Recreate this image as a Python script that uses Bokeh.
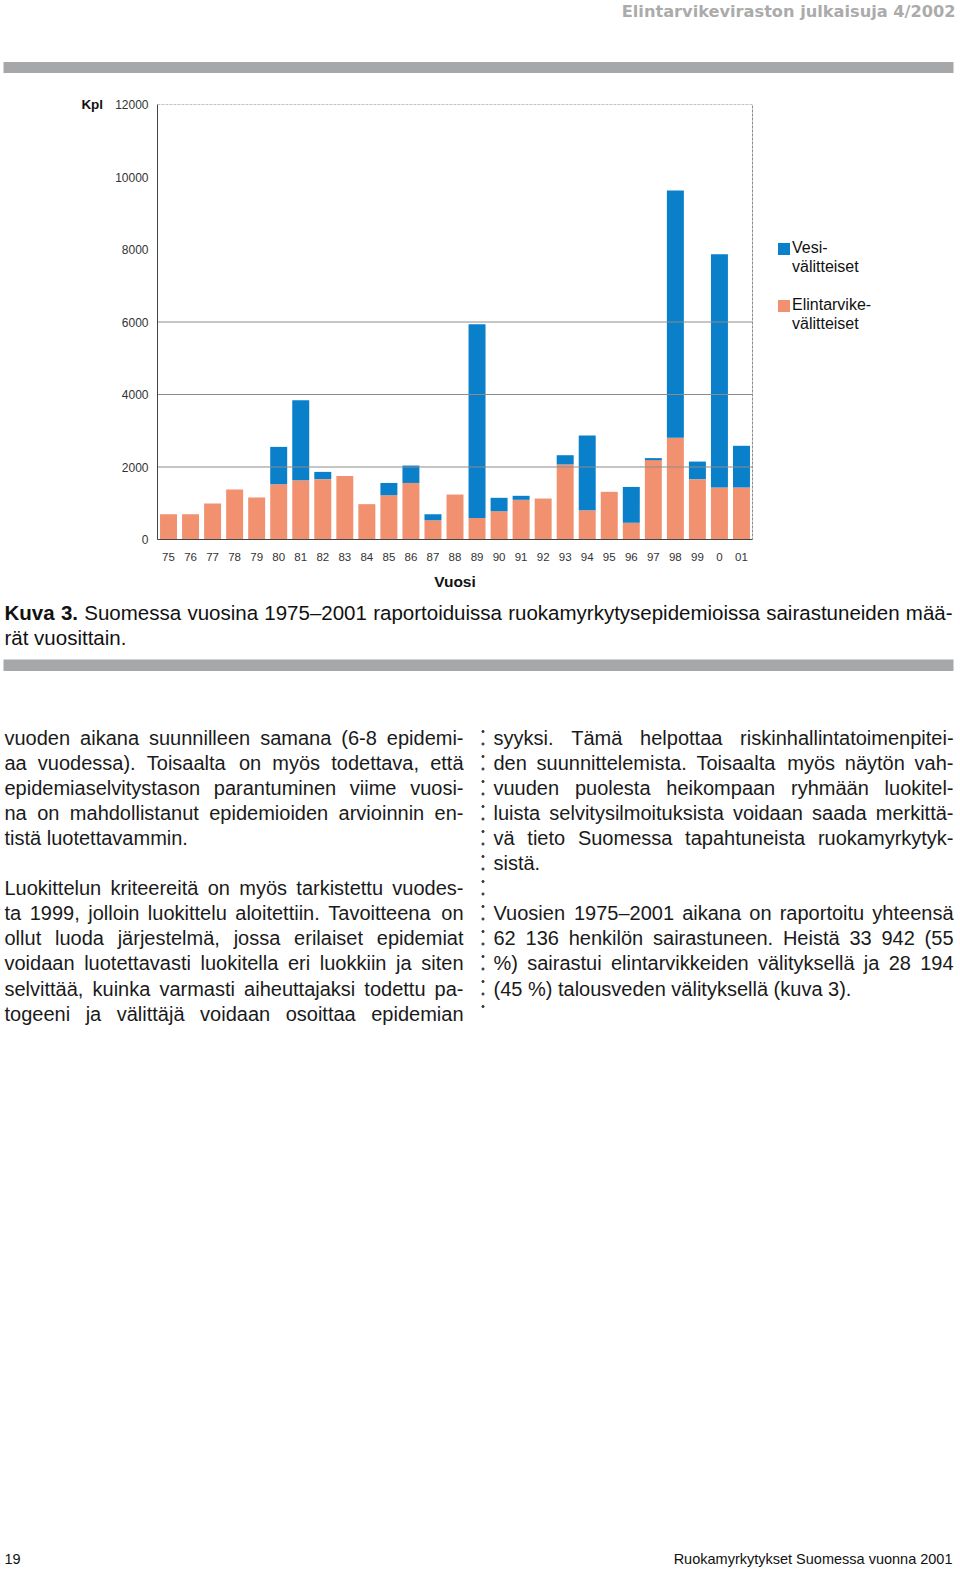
from bokeh.plotting import figure
from bokeh.models import (Range1d, FixedTicker, Legend, LegendItem, ColumnDataSource, LinearAxis)
from bokeh.layouts import column, row
from bokeh.core.properties import value
from bokeh.embed import file_html
from bokeh.resources import INLINE

# ---------------- chart data ----------------
years = ["75", "76", "77", "78", "79", "80", "81", "82", "83", "84", "85", "86", "87", "88",
         "89", "90", "91", "92", "93", "94", "95", "96", "97", "98", "99", "0", "01"]
food = [700, 700, 990, 1380, 1160, 1525, 1635, 1665, 1755, 975, 1220, 1560, 530, 1240,
        590, 780, 1095, 1130, 2070, 810, 1315, 460, 2190, 2805, 1665, 1435, 1435]
water = [0, 0, 0, 0, 0, 1030, 2205, 200, 0, 0, 340, 480, 170, 0,
         5350, 370, 110, 0, 255, 2060, 0, 990, 55, 6825, 485, 6435, 1150]
y_ticks = [0, 2000, 4000, 6000, 8000, 10000, 12000]
grid_ticks = [2000, 4000, 6000]
legend_lines = [["Vesi-", "välitteiset"], ["Elintarvike-", "välitteiset"]]
x_title = "Vuosi"
y_title = "Kpl"

BLUE = "#0a7fca"
ORANGE = "#f2916f"
GRAY_BAR = "#a6a7a9"

# ---------------- page text ----------------
header = "Elintarvikeviraston julkaisuja 4/2002"
caption_bold = ["Kuva", "3."]
caption_l1 = "Suomessa vuosina 1975–2001 raportoiduissa ruokamyrkytysepidemioissa sairastuneiden mää-"
caption_l2 = "rät vuosittain."
left_col = [
    (0, "vuoden aikana suunnilleen samana (6-8 epidemi-", True),
    (1, "aa vuodessa). Toisaalta on myös todettava, että", True),
    (2, "epidemiaselvitystason parantuminen viime vuosi-", True),
    (3, "na on mahdollistanut epidemioiden arvioinnin en-", True),
    (4, "tistä luotettavammin.", False),
    (6, "Luokittelun kriteereitä on myös tarkistettu vuodes-", True),
    (7, "ta 1999, jolloin luokittelu aloitettiin. Tavoitteena on", True),
    (8, "ollut luoda järjestelmä, jossa erilaiset epidemiat", True),
    (9, "voidaan luotettavasti luokitella eri luokkiin ja siten", True),
    (10, "selvittää, kuinka varmasti aiheuttajaksi todettu pa-", True),
    (11, "togeeni ja välittäjä voidaan osoittaa epidemian", True),
]
right_col = [
    (0, "syyksi. Tämä helpottaa riskinhallintatoimenpitei-", True),
    (1, "den suunnittelemista. Toisaalta myös näytön vah-", True),
    (2, "vuuden puolesta heikompaan ryhmään luokitel-", True),
    (3, "luista selvitysilmoituksista voidaan saada merkittä-", True),
    (4, "vä tieto Suomessa tapahtuneista ruokamyrkytyk-", True),
    (5, "sistä.", False),
    (7, "Vuosien 1975–2001 aikana on raportoitu yhteensä", True),
    (8, "62 136 henkilön sairastuneen. Heistä 33 942 (55", True),
    (9, "%) sairastui elintarvikkeiden välityksellä ja 28 194", True),
    (10, "(45 %) talousveden välityksellä (kuva 3).", False),
]
footer_left = "19"
footer_right = "Ruokamyrkytykset Suomessa vuonna 2001"

# ---------------- font metrics (Arial / Liberation Sans, per 1000 em) ----------------
REG = {}
for chars, w in [("ijl", 222), (" ,.:;!ftI/", 278), ("()-r", 333), ("cksvxyzJ", 500),
                 ("abdeghnopquäöL0123456789–", 556), ("FTZ", 611), ("ABEKPSVXYÄ", 667),
                 ("CDHNRUw", 722), ("GOQÖ", 778), ("mM", 833), ("%", 889), ("W", 944)]:
    for c in chars:
        REG[c] = w
BOLD = dict(REG)
for chars, w in [("K", 722), ("u", 611), ("v", 556), ("a", 556), ("3", 556), (".", 278)]:
    for c in chars:
        BOLD[c] = w


def tw(s, size, table=REG):
    return sum(table.get(c, 556) for c in s) * size / 1000.0


def layout_line(words, tables, X0, X1, size, justify):
    widths = [tw(w, size, t) for w, t in zip(words, tables)]
    gap = tw(" ", size)
    if justify and len(words) > 1:
        gap = (X1 - X0 - sum(widths)) / (len(words) - 1)
    xs, x = [], X0
    for wdt in widths:
        xs.append(x)
        x += wdt + gap
    return xs


# ---------------- page geometry (page pixels) ----------------
PW, PH = 960, 1573
A_H = 84                     # header band: y 0..84
B_TOP, B_BOT = 84, 594       # chart band
FL, FR, FT, FB = 157, 752, 104, 539   # chart plot area (bars area)
FRAME_R = 958                # frame extends right to hold the legend


def page_fig(w, h):
    f = figure(width=w, height=h, x_range=Range1d(0, w), y_range=Range1d(h, 0), title=None,
               x_axis_type=None, y_axis_type=None, output_backend="svg",
               toolbar_location=None, min_border=0)
    f.outline_line_color = None
    f.background_fill_color = "white"
    f.border_fill_color = "white"
    return f


def add_text(f, xs, ys, texts, size, bold=False, color="#1a1a1a", align="left",
             font="Liberation Sans"):
    src = ColumnDataSource(dict(x=xs, y=ys, text=texts))
    f.text(x="x", y="y", text="text", source=src, text_font=value(font),
           text_font_size=value(f"{size}px"),
           text_font_style="bold" if bold else "normal",
           text_color=color, text_align=align, text_baseline="alphabetic")


# ---------------- A: header band ----------------
fa = page_fig(PW, A_H)
add_text(fa, [955], [11], [header], 16.2, bold=True, color="#ababab", align="right",
         font="DejaVu Sans")
fa.quad(left=[3], right=[953], top=[61.5], bottom=[72.5], fill_color=GRAY_BAR, line_color=None)

# ---------------- B: chart ----------------
n = len(years)
cat_px = (FR - FL) / n
x_end = -0.5 + (FRAME_R - FL) / cat_px
p = figure(width=PW, height=B_BOT - B_TOP, x_range=Range1d(-0.5, x_end),
           y_range=Range1d(0, 12000), output_backend="svg", toolbar_location=None, title=None,
           min_border_left=FL, min_border_right=PW - FRAME_R,
           min_border_top=FT - B_TOP, min_border_bottom=B_BOT - FB)
p.background_fill_color = "white"
p.border_fill_color = "white"
p.outline_line_color = None

src = ColumnDataSource(dict(xi=list(range(n)), year=years, food=food, water=water))
rs = p.vbar_stack(["food", "water"], x="xi", width=0.77, source=src,
                  fill_color=[ORANGE, BLUE], line_color=None)

# grid lines and plot-area border (limited to the bar area)
p.xgrid.grid_line_color = None
p.ygrid.grid_line_color = None
p.segment(x0=[-0.5] * len(grid_ticks), x1=[n - 0.5] * len(grid_ticks), y0=grid_ticks,
          y1=grid_ticks, line_color="#8c8c8c", line_width=1)
p.line(x=[-0.5, n - 0.5, n - 0.5], y=[y_ticks[-1], y_ticks[-1], 0], line_color="#8a8a8a",
       line_dash="3 1", line_width=1)

p.yaxis.ticker = FixedTicker(ticks=y_ticks)
p.xaxis.ticker = FixedTicker(ticks=list(range(n)))
p.xaxis.major_label_overrides = {i: y for i, y in enumerate(years)}
p.xaxis.bounds = (-0.5, n - 0.5)
for ax in (p.xaxis[0], p.yaxis[0]):
    ax.major_tick_line_color = None
    ax.minor_tick_line_color = None
    ax.major_tick_out = 0
    ax.major_tick_in = 0
    ax.axis_line_color = "#444444"
    ax.major_label_text_font = "Liberation Sans"
    ax.major_label_text_color = "#333333"
p.yaxis.major_label_text_font_size = "12px"
p.yaxis.major_label_standoff = 9
p.yaxis.axis_label = y_title
p.yaxis.axis_label_orientation = "horizontal"
p.yaxis.axis_label_align = "end"
p.yaxis.axis_label_standoff = 9
p.yaxis.axis_label_text_font = "Liberation Sans"
p.yaxis.axis_label_text_font_style = "bold"
p.yaxis.axis_label_text_font_size = "13.5px"
p.yaxis.axis_label_text_color = "#111111"

p.xaxis.major_label_text_font_size = "11.5px"
p.xaxis.major_label_standoff = 13

# x title, centred under the bar area
mid = n // 2
title_axis = LinearAxis(ticker=FixedTicker(ticks=[mid]), major_label_overrides={mid: x_title},
                        axis_line_color=None, major_tick_line_color=None,
                        minor_tick_line_color=None, major_tick_out=0, major_tick_in=0,
                        major_label_standoff=9, major_label_text_font="Liberation Sans",
                        major_label_text_font_style="bold",
                        major_label_text_font_size="15.5px",
                        major_label_text_color="#111111")
p.add_layout(title_axis, "below")

# legend: first line of each entry carries the colour swatch
blank = p.scatter(x=[], y=[], fill_alpha=0, line_alpha=0)
items = [LegendItem(label=legend_lines[0][0], renderers=[rs[1]]),
         LegendItem(label=legend_lines[0][1], renderers=[blank]),
         LegendItem(label="\u00a0", renderers=[blank]),
         LegendItem(label=legend_lines[1][0], renderers=[rs[0]]),
         LegendItem(label=legend_lines[1][1], renderers=[blank])]
legend = Legend(items=items, location=(776 - FL, FB - 333.3), padding=0, margin=0, spacing=1,
                glyph_width=15, glyph_height=15, label_standoff=1, label_height=18,
                label_text_font="Liberation Sans", label_text_font_size="16px",
                label_text_color="#111111",
                border_line_alpha=0, background_fill_alpha=0)
p.add_layout(legend)

# ---------------- C: caption + body + footer ----------------
C_TOP = B_BOT
fc = page_fig(PW, PH - C_TOP)

CAP = 20.5
CAP_Y1, CAP_Y2 = 612, 636.5
cw = caption_bold + caption_l1.split(" ")
ctab = [BOLD] * len(caption_bold) + [REG] * (len(cw) - len(caption_bold))
cxs = layout_line(cw, ctab, 4, 952, CAP, True)
add_text(fc, cxs[:2], [CAP_Y1 - C_TOP] * 2, cw[:2], CAP, bold=True, color="#111111")
add_text(fc, cxs[2:] + [4], [CAP_Y1 - C_TOP] * (len(cw) - 2) + [CAP_Y2 - C_TOP],
         list(cw[2:]) + [caption_l2], CAP, color="#111111")

fc.quad(left=[3], right=[953], top=[659 - C_TOP], bottom=[670.5 - C_TOP],
        fill_color=GRAY_BAR, line_color=None)

BODY = 20
bx, by, bt = [], [], []
for col, X0, X1 in [(left_col, 4, 463), (right_col, 493, 953)]:
    for slot, line, just in col:
        words = line.split(" ")
        Y = 737 + 25.1 * slot
        xs = layout_line(words, [REG] * len(words), X0, X1, BODY, just)
        bx += xs
        by += [Y - C_TOP] * len(words)
        bt += words
add_text(fc, bx, by, bt, BODY)

dot_y = [731 + 12.5 * i for i in range(23)]
fc.scatter(x=[482.5] * len(dot_y), y=[y - C_TOP for y in dot_y], size=2.2,
           marker="circle", color="#3a3a3a")

add_text(fc, [4], [1558 - C_TOP], [footer_left], 14.5, color="#111111")
add_text(fc, [952], [1558 - C_TOP], [footer_right], 14.5, color="#111111", align="right")

page = column(fa, row(p), fc)
open("out.html", "w").write(file_html(page, INLINE))
